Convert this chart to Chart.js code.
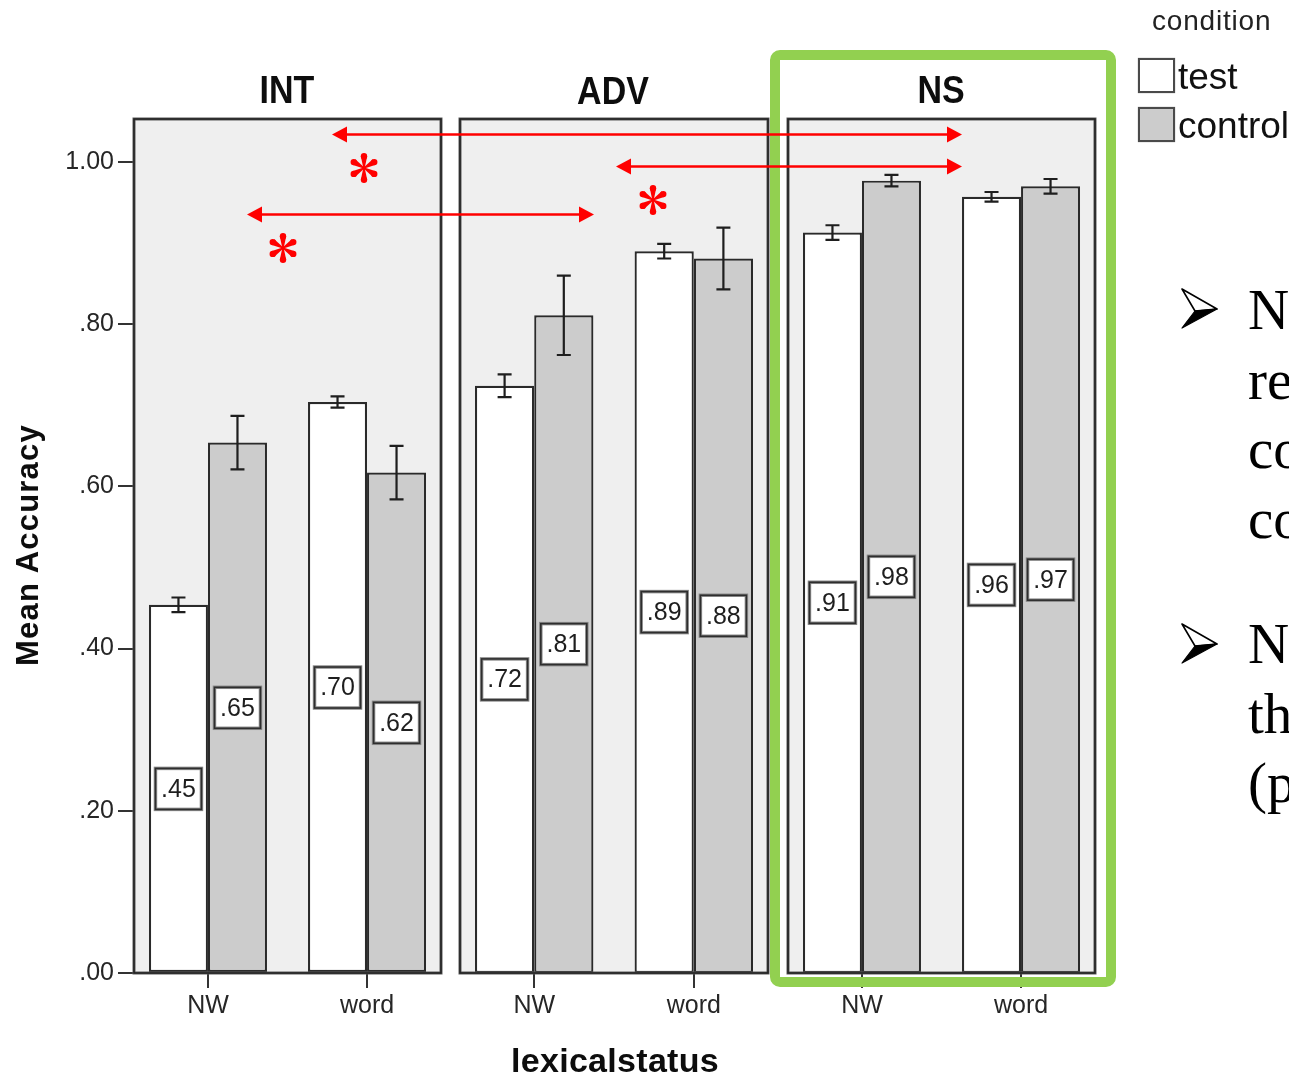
<!DOCTYPE html>
<html>
<head>
<meta charset="utf-8">
<script src="https://cdn.jsdelivr.net/npm/chart.js@4.4.1/dist/chart.umd.min.js"></script>
<style>
  html, body { margin: 0; padding: 0; background: #ffffff; }
  #page { position: relative; width: 1289px; height: 1075px; overflow: hidden;
          font-family: "Liberation Sans", Arial, sans-serif; }
  #page canvas { position: absolute; top: 0; }
  .txt { position: absolute; white-space: nowrap; color: #111; }
  .hdr { font-weight: bold; font-size: 34px; line-height: 40px; text-align: center; width: 200px;
         transform: scaleY(1.15); color: #0d0d0d; }
  .bullet { font-family: "Liberation Serif", "Times New Roman", serif; font-size: 57px;
            line-height: 69.5px; color: #000; left: 1248px; }
  .lgbox { position: absolute; width: 33px; height: 31px; border: 2px solid #4a4a4a;
           box-shadow: 0 0 1px #888; }
</style>
</head>
<body>
<div id="page">
  <canvas id="pINT"></canvas>
  <canvas id="pADV"></canvas>
  <canvas id="pNS"></canvas>
  <canvas id="notes" width="1289" height="1075" style="left:0"></canvas>

  <!-- facet headers -->
  <div class="txt hdr" style="left:187px; top:69px;">INT</div>
  <div class="txt hdr" style="left:513px; top:70px;">ADV</div>
  <div class="txt hdr" style="left:841px; top:69px;">NS</div>

  <!-- axis titles -->
  <div class="txt" style="left:-122px; top:525px; width:300px; text-align:center; font-weight:bold;
       font-size:31px; line-height:40px; letter-spacing:1.2px; transform:rotate(-90deg); color:#0d0d0d;">Mean Accuracy</div>
  <div class="txt" style="left:465px; top:1040px; width:300px; text-align:center; font-weight:bold;
       font-size:34px; line-height:40px; letter-spacing:0.3px; color:#0d0d0d;">lexicalstatus</div>

  <!-- legend -->
  <div class="txt" style="left:1152px; top:4px; font-size:28px; line-height:34px; letter-spacing:0.8px; color:#222;">condition</div>
  <div class="lgbox" style="left:1138px; top:58px; background:#ffffff;"></div>
  <div class="lgbox" style="left:1138px; top:107px; background:#cccccc;"></div>
  <div class="txt" style="left:1178px; top:56px; font-size:37px; line-height:42px; color:#111;">test</div>
  <div class="txt" style="left:1178px; top:105px; font-size:37px; line-height:42px; color:#111;">control</div>

  <!-- slide bullets beside the chart -->
  <svg style="position:absolute; left:0; top:0;" width="1289" height="1075">
    <polygon points="1182,289 1217,309 1195,311" fill="#fff" stroke="#000" stroke-width="1.6" stroke-linejoin="round"/>
    <polygon points="1195,311 1217,309 1182,328" fill="#000" stroke="#000" stroke-width="1.2" stroke-linejoin="round"/>
    <polygon points="1182,624 1217,644 1195,646" fill="#fff" stroke="#000" stroke-width="1.6" stroke-linejoin="round"/>
    <polygon points="1195,646 1217,644 1182,663" fill="#000" stroke="#000" stroke-width="1.2" stroke-linejoin="round"/>
  </svg>
  <div class="txt bullet" style="top:275px;">N<br>re<br>co<br>co</div>
  <div class="txt bullet" style="top:609px;">N<br>th<br>(p</div>
</div>

<script>
// ---- data -------------------------------------------------------------
const groups = ['INT', 'ADV', 'NS'];
const categories = ['NW', 'word'];
const conditions = ['test', 'control'];
// means per group, in order INT-NW, INT-word, ADV-NW, ADV-word, NS-NW, NS-word
const testMeans    = [0.454, 0.704, 0.724, 0.890, 0.913, 0.957];
const controlMeans = [0.654, 0.617, 0.811, 0.881, 0.977, 0.970];
// half-width of the error bars
const testErr      = [0.009, 0.007, 0.014, 0.009, 0.009, 0.006];
const controlErr   = [0.033, 0.033, 0.049, 0.038, 0.007, 0.009];
const yTicks = [0, 0.2, 0.4, 0.6, 0.8, 1.0];

// ---- styling ----------------------------------------------------------
const FONT = '"Liberation Sans", Arial, sans-serif';
const barColors = ['#ffffff', '#cccccc'];
const panelBg = '#efefef';
const inkDark = '#333333';

function fmt(v) {
  return v >= 1 ? v.toFixed(2) : v.toFixed(2).replace(/^0/, '');
}

// panel background, frame, error bars and value boxes
const panelDecor = {
  id: 'panelDecor',
  beforeDatasetsDraw(chart) {
    const a = chart.chartArea, c = chart.ctx;
    c.save();
    c.fillStyle = panelBg;
    c.fillRect(a.left, a.top, a.right - a.left, a.bottom - a.top);
    c.restore();
  },
  afterDatasetsDraw(chart) {
    const c = chart.ctx, a = chart.chartArea, ys = chart.scales.y;
    c.save();
    // error bars
    chart.data.datasets.forEach((ds, di) => {
      const meta = chart.getDatasetMeta(di);
      meta.data.forEach((el, j) => {
        const v = ds.data[j].y, e = ds.errors[j];
        const yt = ys.getPixelForValue(v + e), yb = ys.getPixelForValue(v - e);
        c.strokeStyle = '#1e1e1e';
        c.lineWidth = 2.2;
        c.beginPath();
        c.moveTo(el.x, yt); c.lineTo(el.x, yb);
        c.moveTo(el.x - 7, yt); c.lineTo(el.x + 7, yt);
        c.moveTo(el.x - 7, yb); c.lineTo(el.x + 7, yb);
        c.stroke();
      });
    });
    // value boxes at half bar height
    chart.data.datasets.forEach((ds, di) => {
      const meta = chart.getDatasetMeta(di);
      meta.data.forEach((el, j) => {
        const v = ds.data[j].y;
        const cy = ys.getPixelForValue(v / 2);
        const w = 46, h = 41;
        c.fillStyle = '#ffffff';
        c.fillRect(el.x - w / 2, cy - h / 2, w, h);
        c.strokeStyle = '#8a8a8a';
        c.lineWidth = 3.5;
        c.strokeRect(el.x - w / 2, cy - h / 2, w, h);
        c.strokeStyle = '#2e2e2e';
        c.lineWidth = 1.6;
        c.strokeRect(el.x - w / 2, cy - h / 2, w, h);
        c.fillStyle = '#1e1e1e';
        c.font = '25px ' + FONT;
        c.textAlign = 'center';
        c.textBaseline = 'middle';
        c.fillText(fmt(v), el.x, cy + 1);
      });
    });
    // panel frame
    c.strokeStyle = '#5a5a5a';
    c.lineWidth = 3;
    c.strokeRect(a.left, a.top, a.right - a.left, a.bottom - a.top);
    c.strokeStyle = '#222';
    c.lineWidth = 1.5;
    c.strokeRect(a.left, a.top, a.right - a.left, a.bottom - a.top);
    c.restore();
  }
};

// one facet per group; the first one carries the value axis
const panelLeft  = [134, 460, 788];
const panelWidth = [307, 308, 307];
const AREA_TOP = 119, CANVAS_H = 1075, XAXIS_H = 102;

function buildPanel(g) {
  const showY = g === 0;
  const padL = showY ? 0 : 4, padR = 4;
  const yW = showY ? 134 : 0;
  const cv = document.getElementById('p' + groups[g]);
  const canvasLeft = panelLeft[g] - yW - padL;
  cv.width = yW + padL + panelWidth[g] + padR;
  cv.height = CANVAS_H;
  cv.style.left = canvasLeft + 'px';

  const sl = [2 * g, 2 * g + 2];
  const means = [testMeans.slice(...sl), controlMeans.slice(...sl)];
  const errs  = [testErr.slice(...sl), controlErr.slice(...sl)];

  const datasets = conditions.map((cond, k) => ({
    label: cond,
    data: means[k].map((v, i) => ({ x: i, y: v })),
    errors: errs[k],
    backgroundColor: barColors[k],
    borderColor: '#2a2a2a',
    borderWidth: 2.2,
    borderSkipped: false,
    categoryPercentage: 0.742,
    barPercentage: 1.0
  }));

  new Chart(cv, {
    type: 'bar',
    data: { datasets },
    options: {
      responsive: false,
      animation: false,
      devicePixelRatio: 1,
      layout: { padding: { left: padL, right: padR, top: AREA_TOP, bottom: 0 } },
      plugins: { legend: { display: false }, tooltip: { enabled: false } },
      scales: {
        x: {
          type: 'linear',
          min: -0.465,
          max: 1.465,
          offset: false,
          border: { display: false },
          grid: { drawOnChartArea: false, drawTicks: true, tickLength: 15, offset: false,
                  color: inkDark, lineWidth: 2 },
          afterBuildTicks: s => { s.ticks = categories.map((c, i) => ({ value: i })); },
          afterFit: s => { s.height = XAXIS_H; },
          ticks: {
            callback: v => categories[v],
            padding: 3,
            color: '#262626',
            font: { family: FONT, size: 25 },
            maxRotation: 0,
            autoSkip: false
          }
        },
        y: {
          display: showY,
          min: 0,
          max: 1.053,
          border: { display: false },
          grid: { drawOnChartArea: false, drawTicks: true, tickLength: 16,
                  color: inkDark, lineWidth: 2 },
          afterBuildTicks: s => { s.ticks = yTicks.map(v => ({ value: v })); },
          afterFit: s => { s.width = yW; },
          ticks: {
            callback: v => fmt(v),
            padding: 4,
            color: '#262626',
            font: { family: FONT, size: 25 }
          }
        }
      }
    },
    plugins: [panelDecor]
  });
}

groups.forEach((_, g) => buildPanel(g));

// ---- annotations: highlight box, comparison arrows, significance marks ----
(function drawNotes() {
  const c = document.getElementById('notes').getContext('2d');
  const RED = '#ff0000';

  // green highlight around the NS facet
  c.strokeStyle = '#92d050';
  c.lineWidth = 10;
  c.lineJoin = 'round';
  c.beginPath();
  c.roundRect(775, 55, 336, 927, 5);
  c.stroke();

  function arrow(x1, x2, y) {
    const hl = 15, hh = 8;
    c.strokeStyle = RED; c.fillStyle = RED; c.lineWidth = 2.6;
    c.beginPath(); c.moveTo(x1 + hl - 2, y); c.lineTo(x2 - hl + 2, y); c.stroke();
    c.beginPath(); c.moveTo(x1, y); c.lineTo(x1 + hl, y - hh); c.lineTo(x1 + hl, y + hh); c.closePath(); c.fill();
    c.beginPath(); c.moveTo(x2, y); c.lineTo(x2 - hl, y - hh); c.lineTo(x2 - hl, y + hh); c.closePath(); c.fill();
  }
  // six teardrop lobes
  function star(cx, cy, r) {
    c.fillStyle = RED;
    for (let k = 0; k < 6; k++) {
      const a = Math.PI / 2 + k * Math.PI / 3;
      const dx = Math.cos(a), dy = -Math.sin(a);
      const px = -dy, py = dx;
      const ex = cx + dx * r * 0.74, ey = cy + dy * r * 0.74, lr = r * 0.2;
      c.beginPath();
      c.moveTo(cx + px * 0.7, cy + py * 0.7);
      c.lineTo(ex + px * lr, ey + py * lr);
      c.lineTo(ex - px * lr, ey - py * lr);
      c.lineTo(cx - px * 0.7, cy - py * 0.7);
      c.closePath(); c.fill();
      c.beginPath(); c.arc(ex, ey, lr, 0, Math.PI * 2); c.fill();
    }
  }
  arrow(332, 962, 134.5);
  arrow(616, 962, 166.5);
  arrow(247, 594, 214.5);
  star(364, 168, 16);
  star(653, 200, 16);
  star(283, 248, 16);
})();
</script>
</body>
</html>
